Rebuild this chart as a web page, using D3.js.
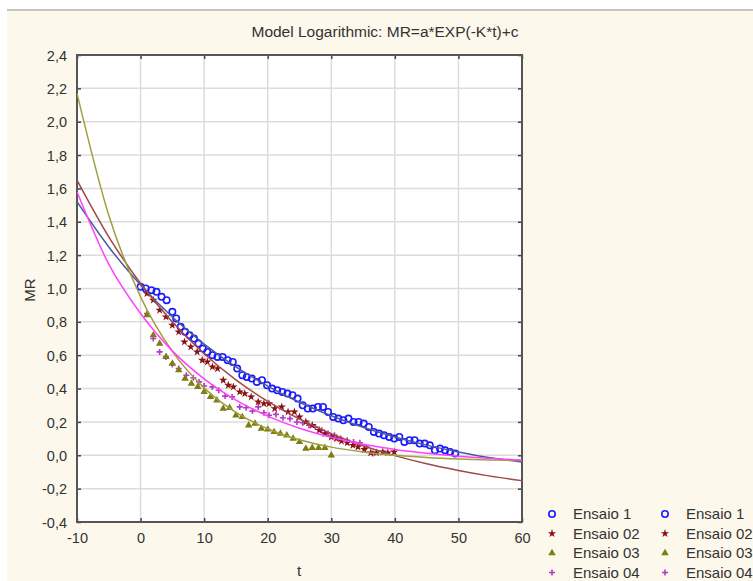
<!DOCTYPE html>
<html>
<head>
<meta charset="utf-8">
<script src="https://cdn.jsdelivr.net/npm/d3@7"></script>
<style>
  body { margin: 0; background: #fff; }
  svg { display: block; }
  text { font-family: "Liberation Sans", Arial, sans-serif; fill: #333; }
</style>
</head>
<body>
<svg id="chart" width="753" height="581"></svg>
<script>
// data
var seriesNames = ["Ensaio 1", "Ensaio 02", "Ensaio 03", "Ensaio 04"]
var xTicks = [-10, 0, 10, 20, 30, 40, 50, 60]
var yTicks = [-0.4, -0.2, 0, 0.2, 0.4, 0.6, 0.8, 1.0, 1.2, 1.4, 1.6, 1.8, 2.0, 2.2, 2.4]

var t1 = [0.0,0.8,1.7,2.5,3.3,4.1,5.0,5.6,6.3,7.0,7.7,8.4,9.1,9.8,10.5,11.3,12.1,12.9,13.7,14.5,15.2,16.0,16.7,17.5,18.3,19.1,19.9,20.7,21.5,22.3,23.1,23.9,24.7,25.5,26.3,27.1,27.9,28.7,29.5,30.3,31.1,31.9,32.7,33.5,34.3,35.1,35.9,36.7,37.5,38.3,39.1,39.9,40.7,41.5,42.3,43.1,43.9,44.7,45.5,46.3,47.1,47.9,48.7,49.5]
var mr1 = [1.01,1.00,0.99,0.98,0.95,0.93,0.86,0.82,0.77,0.74,0.72,0.70,0.67,0.64,0.62,0.60,0.59,0.59,0.57,0.56,0.52,0.48,0.47,0.46,0.44,0.45,0.42,0.40,0.39,0.38,0.37,0.36,0.34,0.30,0.28,0.28,0.29,0.29,0.26,0.23,0.22,0.21,0.22,0.20,0.20,0.19,0.17,0.14,0.13,0.12,0.11,0.10,0.11,0.08,0.09,0.09,0.07,0.07,0.06,0.03,0.04,0.03,0.02,0.01]

var t2 = [1.0,2.0,3.0,4.0,5.0,6.0,6.9,7.9,8.9,9.7,10.5,11.3,12.1,13.0,13.8,14.6,15.6,16.4,17.4,18.5,19.4,20.2,21.1,22.2,23.2,24.2,25.0,26.0,27.0,28.1,29.0,30.0,30.8,31.6,32.5,33.4,34.2,35.2,36.2,37.1,38.1,38.9,39.9]
var mr2 = [0.97,0.93,0.87,0.83,0.78,0.74,0.68,0.65,0.62,0.57,0.56,0.53,0.52,0.45,0.42,0.41,0.38,0.37,0.35,0.32,0.31,0.31,0.28,0.29,0.26,0.26,0.23,0.20,0.18,0.15,0.13,0.11,0.10,0.085,0.075,0.06,0.05,0.035,0.015,0.015,0.02,0.015,0.02]

var t3 = [1,2,3,4,5,6,7,8,9,10,11,12,13,14,15,16,17,18,19,20,21,22,23,24,25,26,27,28,29,30]
var mr3 = [0.84,0.72,0.67,0.59,0.55,0.51,0.46,0.43,0.41,0.38,0.35,0.33,0.28,0.285,0.24,0.23,0.18,0.19,0.16,0.155,0.14,0.13,0.12,0.10,0.08,0.04,0.045,0.045,0.045,0.0]

var t4 = [1.0,2.0,3.0,4.0,5.0,6.0,7.2,8.3,9.2,10.0,11.3,12.3,13.3,14.4,15.6,16.6,17.6,18.5,19.4,20.2,21.3,22.4,23.5,24.6,25.5,26.5,27.5,28.5,29.5,30.5,31.5,32.5,33.5,34.5,35.5,36.5]
var mr4 = [0.85,0.70,0.62,0.59,0.545,0.52,0.48,0.465,0.44,0.415,0.41,0.39,0.355,0.35,0.29,0.285,0.265,0.29,0.255,0.24,0.245,0.225,0.22,0.20,0.195,0.18,0.17,0.15,0.13,0.12,0.10,0.09,0.08,0.075,0.05,0.01]

// fitted model curves, read at every 5 units of t
var fitT = [-10,-5,0,5,10,15,20,25,30,35,40,45,50,55,60]
var fit1 = [1.52,1.249,1.021,0.829,0.667,0.530,0.415,0.318,0.237,0.168,0.110,0.061,0.020,-0.015,-0.04]
var fit2 = [1.65,1.310,1.03,0.799,0.609,0.452,0.323,0.217,0.130,0.057,-0.002,-0.051,-0.091,-0.125,-0.152]
var fit3 = [2.17,1.439,0.95,0.623,0.404,0.257,0.159,0.093,0.049,0.020,0.000,-0.013,-0.022,-0.028,-0.032]
var fit4 = [1.58,1.146,0.85,0.626,0.458,0.331,0.235,0.162,0.108,0.066,0.035,0.012,-0.006,-0.019,-0.029]

var pointColors = ["#1a1aff", "#8b1010", "#7d7d10", "#b03cc0"]
var lineColors = ["#4a5a9c", "#a04848", "#a0a040", "#ff40ff"]

var svg = d3.select("#chart")

// page background
svg.append("rect").attr("x", 7).attr("y", 10).attr("width", 746).attr("height", 571).attr("fill", "#fdf8ec")
svg.append("line").attr("x1", 7).attr("x2", 753).attr("y1", 10).attr("y2", 10)
  .attr("stroke", "#c4c4c0").attr("stroke-width", 2)

var m = {left: 77, right: 522, top: 55, bottom: 522}
var x = d3.scaleLinear().domain([-10, 60]).range([m.left, m.right])
var y = d3.scaleLinear().domain([-0.4, 2.4]).range([m.bottom, m.top])

svg.append("rect").attr("x", m.left).attr("y", m.top)
  .attr("width", m.right - m.left).attr("height", m.bottom - m.top).attr("fill", "#fff")

// grid
svg.append("g").selectAll("line").data(xTicks.slice(1, -1)).enter().append("line")
  .attr("x1", d => x(d)).attr("x2", d => x(d)).attr("y1", m.top).attr("y2", m.bottom)
  .attr("stroke", "#dcdcdc").attr("stroke-width", 1.5)
svg.append("g").selectAll("line").data(yTicks.slice(1, -1)).enter().append("line")
  .attr("y1", d => y(d)).attr("y2", d => y(d)).attr("x1", m.left).attr("x2", m.right)
  .attr("stroke", "#dcdcdc").attr("stroke-width", 1.5)

var comma = d => d3.format(".1f")(d).replace(".", ",").replace("\u2212", "-")
var plain = d => String(d)

// axes, ticks pointing inward on all four sides
var gl = svg.append("g").attr("transform", "translate(" + m.left + ",0)")
  .call(d3.axisLeft(y).tickValues(yTicks).tickFormat(comma).tickSize(-4).tickPadding(10))
var gr = svg.append("g").attr("transform", "translate(" + m.right + ",0)")
  .call(d3.axisRight(y).tickValues(yTicks).tickFormat("").tickSize(-4))
var gb = svg.append("g").attr("transform", "translate(0," + m.bottom + ")")
  .call(d3.axisBottom(x).tickValues(xTicks).tickFormat(plain).tickSize(-4).tickPadding(10))
var gt = svg.append("g").attr("transform", "translate(0," + m.top + ")")
  .call(d3.axisTop(x).tickValues(xTicks).tickFormat("").tickSize(-4))

svg.selectAll(".domain").remove()
svg.selectAll(".tick line").attr("stroke", "#444").attr("stroke-width", 1.5)
svg.selectAll(".tick text").attr("font-size", 14.5).attr("fill", "#333")
  .attr("font-family", "Liberation Sans, Arial, sans-serif")
gl.selectAll(".tick text").attr("dy", "0.35em")
gb.selectAll(".tick text").attr("dy", "0.75em")

svg.append("rect").attr("x", m.left).attr("y", m.top)
  .attr("width", m.right - m.left).attr("height", m.bottom - m.top)
  .attr("fill", "none").attr("stroke", "#555").attr("stroke-width", 2)

// fitted curves
var fits = [fit1, fit2, fit3, fit4]
var line = d3.line().x(d => x(d[0])).y(d => y(d[1])).curve(d3.curveMonotoneX)
svg.append("clipPath").attr("id", "clip").append("rect")
  .attr("x", m.left).attr("y", m.top).attr("width", m.right - m.left).attr("height", m.bottom - m.top)

// points
var ts = [t1, t2, t3, t4]
var mrs = [mr1, mr2, mr3, mr4]

function drawSymbol(g, i, px, py) {
  if (i == 0) {
    g.append("circle").attr("cx", px).attr("cy", py).attr("r", 3.2)
      .attr("fill", "none").attr("stroke", pointColors[0]).attr("stroke-width", 1.6)
  } else if (i == 1) {
    g.append("path").attr("d", d3.symbol().type(d3.symbolStar).size(22)())
      .attr("transform", "translate(" + px + "," + py + ")").attr("fill", pointColors[1])
  } else if (i == 2) {
    g.append("path").attr("d", d3.symbol().type(d3.symbolTriangle).size(24)())
      .attr("transform", "translate(" + px + "," + py + ")").attr("fill", pointColors[2])
  } else {
    g.append("path").attr("d", "M-3,0H3M0,-3V3")
      .attr("transform", "translate(" + px + "," + py + ")")
      .attr("stroke", pointColors[3]).attr("stroke-width", 1.6).attr("fill", "none")
  }
}

var pts = svg.append("g").attr("clip-path", "url(#clip)")
for (var i = 3; i >= 0; i--) {
  for (var j = 0; j < ts[i].length; j++) {
    drawSymbol(pts, i, x(ts[i][j]), y(mrs[i][j]))
  }
}

var lines = svg.append("g").attr("clip-path", "url(#clip)")
for (var k = 0; k < 4; k++) {
  lines.append("path").datum(fitT.map((t, j) => [t, fits[k][j]]))
    .attr("d", line).attr("fill", "none")
    .attr("stroke", lineColors[k]).attr("stroke-width", 1.5)
}

// titles
svg.append("text").attr("x", 385).attr("y", 37).attr("text-anchor", "middle")
  .attr("font-size", 15.5).text("Model Logarithmic: MR=a*EXP(-K*t)+c")
svg.append("text").attr("x", 299).attr("y", 576).attr("text-anchor", "middle")
  .attr("font-size", 15).text("t")
svg.append("text").attr("transform", "translate(35,290) rotate(-90)").attr("text-anchor", "middle")
  .attr("font-size", 15).text("MR")

// legend, two identical columns
var legend = svg.append("g")
var cols = [552, 665]
cols.forEach(function(cx) {
  seriesNames.forEach(function(name, i) {
    var ly = 514 + i * 19.5
    drawSymbol(legend, i, cx, ly)
    legend.append("text").attr("x", cx + 21).attr("y", ly).attr("dy", "0.35em")
      .attr("font-size", 15).text(name)
  })
})
</script>
</body>
</html>
